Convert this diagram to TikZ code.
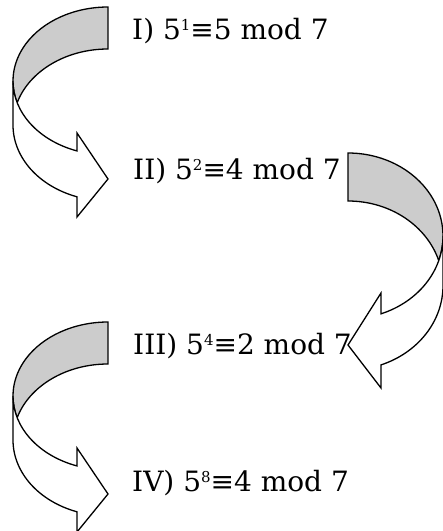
\documentclass[tikz,border=0pt]{standalone}
\usepackage{fontspec}
\setmainfont{DejaVu Serif}
\newcommand\supnum[1]{\raisebox{0.32em}{\fontsize{15}{15}\selectfont #1}}
\tikzset{
  band/.style={draw=black, line width=1.3pt, line join=miter},
  backband/.style={band, fill=black!20},
  frontband/.style={band, fill=white},
  congr/.style={anchor=base west, inner sep=0pt, font=\fontsize{28}{33}\selectfont},
  % curved block arrow: band leaves to the left, turns down and points right
  pics/rightturn/.style={code={
    \path[backband] (0,0)
      arc[start angle=90, end angle=197.05, x radius=95, y radius=74]
      arc[start angle=162.94, end angle=90, x radius=95, y radius=76] -- cycle;
    \path[frontband] (-95,-74)
      arc[start angle=180, end angle=250.96, x radius=95, y radius=74]
      -- (-31,-126) -- (0,-172) -- (-31,-210) -- (-31,-189.8)
      arc[start angle=250.96, end angle=180, x radius=95, y radius=76] -- cycle;
  }},
  % mirrored version: band leaves to the right, turns down and points left
  pics/leftturn/.style={code={
    \path[backband] (0,0)
      arc[start angle=90, end angle=-17.21, x radius=95, y radius=83]
      arc[start angle=17.22, end angle=90, x radius=95, y radius=84.6] -- cycle;
    \path[frontband] (95,-83)
      arc[start angle=0, end angle=-69.67, x radius=95, y radius=83]
      -- (33,-140) -- (0,-192) -- (33,-235) -- (33,-211.9)
      arc[start angle=-69.67, end angle=0, x radius=95, y radius=84.6] -- cycle;
  }}
}
\begin{document}
\begin{tikzpicture}[x=1pt, y=1pt]
  \useasboundingbox (0,0) rectangle (443,-531);
  \pic at (108,-7) {rightturn};
  \pic at (348,-153) {leftturn};
  \pic at (108,-322) {rightturn};
  \node[congr] (s1) at (132,-39.3) {I) 5\supnum{1}≡5 mod 7};
  \node[congr] (s2) at (133,-179.3) {II) 5\supnum{2}≡4 mod 7};
  \node[congr] (s3) at (133,-354) {III) 5\supnum{4}≡2 mod 7};
  \node[congr] (s4) at (132,-491.7) {IV) 5\supnum{8}≡4 mod 7};
\end{tikzpicture}
\end{document}
